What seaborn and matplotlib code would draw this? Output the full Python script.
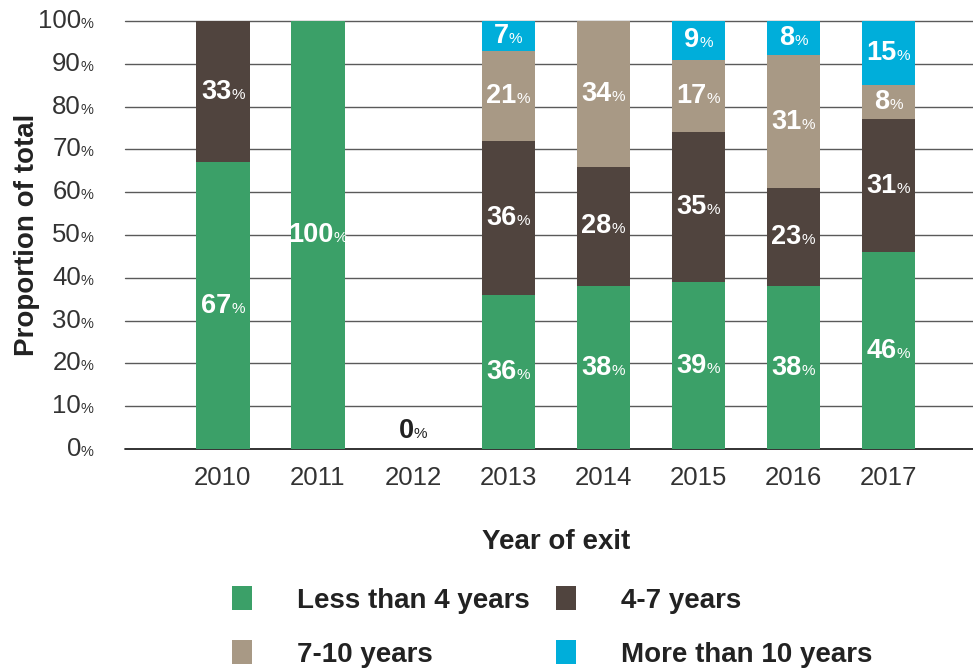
import numpy as np
import pandas as pd
import seaborn as sns
import matplotlib
matplotlib.use("Agg")
import matplotlib.pyplot as plt
from matplotlib.patches import Patch
from matplotlib.offsetbox import TextArea, HPacker, AnnotationBbox
import matplotlib.transforms as mtransforms

# ---------------- data ----------------
years = ["2010", "2011", "2012", "2013", "2014", "2015", "2016", "2017"]
less_than_4 = [67, 100, 0, 36, 38, 39, 38, 46]
years_4_7 = [33, 0, 0, 36, 28, 35, 23, 31]
years_7_10 = [0, 0, 0, 21, 34, 17, 31, 8]
more_than_10 = [0, 0, 0, 7, 0, 9, 8, 15]
series_names = ["Less than 4 years", "4-7 years", "7-10 years", "More than 10 years"]
series_colors = ["#3BA068", "#50443E", "#A89985", "#00AEDA"]
ytick_values = [0, 10, 20, 30, 40, 50, 60, 70, 80, 90, 100]

series = [less_than_4, years_4_7, years_7_10, more_than_10]

sns.set_theme(style="white")
plt.rcParams["font.family"] = ["Liberation Sans", "DejaVu Sans"]

fig = plt.figure(figsize=(9.73, 6.70), dpi=100)
ax = fig.add_axes([125 / 973, 1 - 449 / 670, 848 / 973, 428 / 670])

cum = np.zeros(len(years))
cums = []
for s in series:
    cum = cum + np.array(s)
    cums.append(cum.copy())

# draw cumulative bars from the tallest down so smaller ones sit on top
for i in range(len(series) - 1, -1, -1):
    d = pd.DataFrame({"year": years, "value": cums[i]})
    sns.barplot(data=d, x="year", y="value", order=years, color=series_colors[i],
                width=0.56, saturation=1, ax=ax, zorder=3, linewidth=0, edgecolor="none")

ax.set_xlim(-1.03, 7.89)
ax.set_ylim(0, 100)

# gridlines
for v in ytick_values:
    ax.axhline(v, color="#222222" if v == 0 else "#5a5a5a", lw=1.3 if v == 0 else 1.0,
               zorder=1, clip_on=False)

for sp in ax.spines.values():
    sp.set_visible(False)

ax.set_yticks(ytick_values)
ax.set_yticklabels([])
ax.tick_params(axis="y", length=0)
ax.tick_params(axis="x", length=0, pad=12, labelsize=18.5, labelcolor="#333333")

# y tick labels with small percent sign
trans = mtransforms.blended_transform_factory(ax.transAxes, ax.transData)
for v in ytick_values:
    box = HPacker(children=[
        TextArea(str(v), textprops=dict(fontsize=18.5, color="#333333")),
        TextArea("%", textprops=dict(fontsize=10.5, color="#333333")),
    ], align="baseline", pad=0, sep=0)
    ab = AnnotationBbox(box, (0, v), xycoords=trans, xybox=(-22.5, 0),
                        boxcoords="offset points", box_alignment=(1, 0.5),
                        frameon=False, annotation_clip=False)
    ax.add_artist(ab)

# bar labels
for j, yr in enumerate(years):
    total = 0
    for i, s in enumerate(series):
        val = s[j]
        if val > 0:
            center = total + val / 2
            box = HPacker(children=[
                TextArea(str(val), textprops=dict(fontsize=19.5, fontweight="bold", color="white")),
                TextArea("%", textprops=dict(fontsize=11, color="white")),
            ], align="baseline", pad=0, sep=0)
            ab = AnnotationBbox(box, (j, center), xycoords="data", box_alignment=(0.5, 0.5),
                                frameon=False, zorder=5)
            ax.add_artist(ab)
        total += val
    if total == 0:
        box = HPacker(children=[
            TextArea("0", textprops=dict(fontsize=19.5, fontweight="bold", color="#222222")),
            TextArea("%", textprops=dict(fontsize=11, color="#222222")),
        ], align="baseline", pad=0, sep=0)
        ab = AnnotationBbox(box, (j, 0), xycoords="data", xybox=(0, 13),
                            boxcoords="offset points", box_alignment=(0.5, 0.5),
                            frameon=False, zorder=5)
        ax.add_artist(ab)

ax.set_ylabel("Proportion of total", fontsize=20, fontweight="bold", color="#222222")
ax.yaxis.set_label_coords(-0.100, 0.5)
ax.set_xlabel("Year of exit", fontsize=20, fontweight="bold", color="#222222")
ax.xaxis.set_label_coords((556 - 125) / 848, -0.186)

# legend laid out row-wise: (Less, 4-7) / (7-10, More)
order = [0, 2, 1, 3]
handles = [Patch(facecolor=series_colors[k], edgecolor="none") for k in order]
labels = [series_names[k] for k in order]
fig.legend(handles, labels, loc="upper left",
           bbox_to_anchor=(232 / 973, 1 - 586 / 670), ncol=2, frameon=False,
           borderpad=0, borderaxespad=0, handlelength=0.72, handleheight=0.97,
           handletextpad=1.62, columnspacing=0.93, labelspacing=0.95,
           prop=dict(size=20, weight="bold"), labelcolor="#222222")

fig.savefig("out.png", dpi=100)
